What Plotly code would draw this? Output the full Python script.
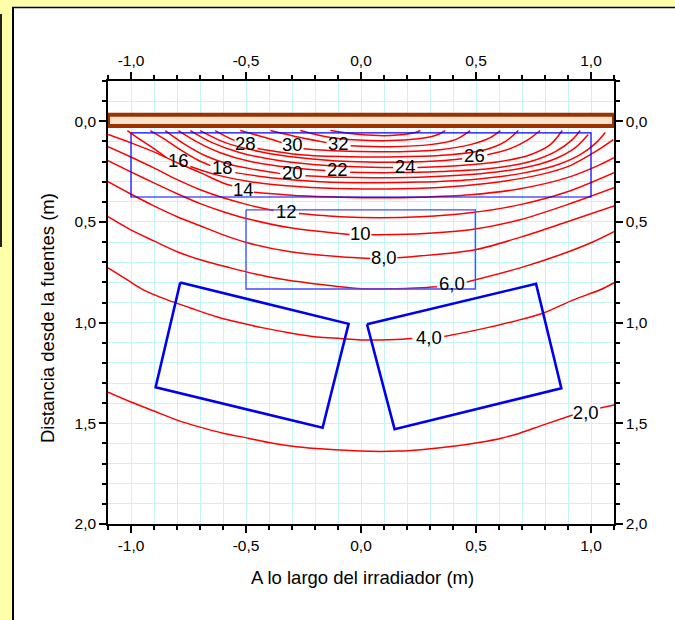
import plotly.graph_objects as go
import numpy as np

# ---------------- data (metres) ----------------
# contour lines of dose rate; None marks the gap left for the inline label
lvl2_x = [-1.10, -1.00, -0.90, -0.80, -0.70, -0.60, -0.49, -0.39, -0.28, -0.16, 0.00, 0.16, 0.26, 0.41, 0.52, 0.61, 0.69, 0.79, 0.92, None, 1.04, 1.10]
lvl2_y = [1.345, 1.394, 1.439, 1.484, 1.519, 1.549, 1.574, 1.598, 1.616, 1.628, 1.638, 1.638, 1.631, 1.613, 1.594, 1.574, 1.549, 1.509, 1.459, None, 1.424, 1.409]

lvl4_x = [-1.10, -1.016, -0.947, -0.842, -0.742, -0.625, -0.525, -0.425, -0.308, -0.190, -0.090, -0.003, 0.149, 0.223, None, 0.362, 0.505, 0.662, 0.793, 0.923, 1.040, 1.10]
lvl4_y = [0.728, 0.788, 0.837, 0.887, 0.927, 0.972, 1.001, 1.026, 1.051, 1.071, 1.079, 1.086, 1.084, 1.079, None, 1.069, 1.036, 0.994, 0.952, 0.887, 0.837, 0.802]

lvl6_x = [-1.10, -1.003, -0.903, -0.799, -0.699, -0.568, -0.460, -0.351, -0.164, -0.016, 0.127, 0.288, 0.33, None, 0.46, 0.692, 0.866, 1.010, 1.10]
lvl6_y = [0.474, 0.538, 0.593, 0.648, 0.688, 0.728, 0.758, 0.783, 0.812, 0.830, 0.832, 0.825, 0.822, None, 0.798, 0.728, 0.663, 0.598, 0.548]

lvl8_x = [-1.10, -1.003, -0.903, -0.799, -0.699, -0.599, -0.494, -0.307, -0.090, 0.040, None, 0.158, 0.314, 0.497, 0.701, 0.897, 1.10]
lvl8_y = [0.300, 0.360, 0.419, 0.474, 0.519, 0.564, 0.603, 0.648, 0.673, 0.681, None, 0.678, 0.663, 0.638, 0.573, 0.499, 0.420]

lvl10_x = [-1.10, -1.003, -0.903, -0.799, -0.699, -0.599, -0.494, -0.307, -0.05, None, 0.045, 0.258, 0.475, 0.692, 0.897, 1.10]
lvl10_y = [0.196, 0.250, 0.305, 0.360, 0.409, 0.449, 0.484, 0.529, 0.562, None, 0.563, 0.558, 0.539, 0.489, 0.414, 0.330]

lvl12_x = [-1.10, -1.003, -0.903, -0.799, -0.699, -0.599, -0.494, -0.38, None, -0.27, -0.090, 0.084, 0.258, 0.475, 0.692, 0.897, 1.10]
lvl12_y = [0.126, 0.176, 0.230, 0.290, 0.340, 0.380, 0.414, 0.443, None, 0.458, 0.474, 0.479, 0.474, 0.454, 0.414, 0.350, 0.255]

lvl14_x = [-1.10, -1.003, -0.903, -0.799, -0.699, -0.603, -0.56, None, -0.465, -0.264, -0.090, 0.084, 0.258, 0.475, 0.692, 0.897, 1.040, 1.10]
lvl14_y = [0.066, 0.106, 0.151, 0.206, 0.255, 0.305, 0.320, None, 0.352, 0.370, 0.377, 0.380, 0.377, 0.365, 0.335, 0.280, 0.215, 0.181]

lvl16_x = [-1.016, -0.960, -0.894, -0.846, None, -0.742, -0.633, -0.481, -0.264, -0.047, 0.171, 0.388, 0.605, 0.779, 0.910, 1.019, 1.097]
lvl16_y = [0.046, 0.091, 0.141, 0.181, None, 0.225, 0.265, 0.300, 0.325, 0.335, 0.335, 0.325, 0.300, 0.265, 0.220, 0.151, 0.091]

lvl18_x = [-0.916, -0.851, -0.786, -0.712, -0.655, None, -0.547, -0.394, -0.177, 0.040, 0.258, 0.475, 0.692, 0.845, 0.953, 1.023, 1.062]
lvl18_y = [0.046, 0.091, 0.141, 0.191, 0.220, None, 0.255, 0.280, 0.300, 0.305, 0.302, 0.290, 0.260, 0.220, 0.166, 0.106, 0.056]

lvl20_x = [-0.851, -0.764, -0.677, -0.568, -0.460, -0.351, None, -0.242, -0.090, 0.084, 0.301, 0.519, 0.714, 0.845, 0.932, 0.988]
lvl20_y = [0.046, 0.116, 0.171, 0.215, 0.240, 0.260, None, 0.270, 0.278, 0.280, 0.275, 0.260, 0.230, 0.186, 0.131, 0.066]

lvl22_x = [-0.794, -0.707, -0.612, -0.481, -0.307, -0.155, None, -0.047, 0.127, 0.345, 0.562, 0.736, 0.845, 0.919, 0.953]
lvl22_y = [0.046, 0.106, 0.156, 0.200, 0.230, 0.245, None, 0.253, 0.255, 0.250, 0.235, 0.200, 0.151, 0.091, 0.046]

lvl24_x = [-0.742, -0.647, -0.525, -0.351, -0.133, 0.140, None, 0.245, 0.432, 0.605, 0.736, 0.823, 0.875]
lvl24_y = [0.046, 0.106, 0.156, 0.196, 0.221, 0.230, None, 0.230, 0.220, 0.200, 0.166, 0.116, 0.046]

lvl26_x = [-0.699, -0.590, -0.438, -0.264, -0.047, 0.171, 0.345, 0.440, None, 0.549, 0.649, 0.727, 0.779]
lvl26_y = [0.046, 0.106, 0.151, 0.181, 0.200, 0.203, 0.196, 0.186, None, 0.166, 0.136, 0.091, 0.046]

lvl28_x = [-0.634, -0.577, -0.55, None, -0.45, -0.264, -0.047, 0.171, 0.388, 0.540, 0.627, 0.684]
lvl28_y = [0.046, 0.081, 0.095, None, 0.135, 0.166, 0.176, 0.176, 0.166, 0.141, 0.101, 0.046]

lvl30_x = [-0.525, -0.416, -0.345, None, -0.250, -0.090, 0.127, 0.345, 0.475, 0.562, 0.606]
lvl30_y = [0.046, 0.081, 0.106, None, 0.136, 0.148, 0.151, 0.141, 0.116, 0.081, 0.046]

lvl32_x = [-0.394, -0.264, -0.150, None, -0.045, 0.127, 0.301, 0.410, 0.475]
lvl32_y = [0.046, 0.081, 0.106, None, 0.121, 0.126, 0.116, 0.091, 0.046]

lvl34_x = [-0.264, -0.133, 0.040, 0.214, 0.323, 0.366]
lvl34_y = [0.046, 0.081, 0.096, 0.091, 0.071, 0.046]

lvl36_x = [-0.133, -0.003, 0.127, 0.236, 0.258]
lvl36_y = [0.046, 0.066, 0.071, 0.056, 0.046]

contour_lines = [
    (lvl2_x, lvl2_y), (lvl4_x, lvl4_y), (lvl6_x, lvl6_y), (lvl8_x, lvl8_y),
    (lvl10_x, lvl10_y), (lvl12_x, lvl12_y), (lvl14_x, lvl14_y), (lvl16_x, lvl16_y),
    (lvl18_x, lvl18_y), (lvl20_x, lvl20_y), (lvl22_x, lvl22_y), (lvl24_x, lvl24_y),
    (lvl26_x, lvl26_y), (lvl28_x, lvl28_y), (lvl30_x, lvl30_y), (lvl32_x, lvl32_y),
    (lvl34_x, lvl34_y), (lvl36_x, lvl36_y),
]

# contour labels
label_text = ["2,0", "4,0", "6,0", "8,0", "10", "12", "14", "16", "18", "20", "22", "24", "26", "28", "30", "32"]
label_x = [0.977, 0.295, 0.395, 0.099, -0.003, -0.325, -0.512, -0.794, -0.603, -0.299, -0.103, 0.192, 0.493, -0.503, -0.299, -0.099]
label_y = [1.457, 1.084, 0.815, 0.686, 0.566, 0.457, 0.347, 0.203, 0.240, 0.265, 0.248, 0.233, 0.178, 0.121, 0.123, 0.121]

# source rack (brown bar)
source_x = [-1.10, 1.10, 1.10, -1.10, -1.10]
source_y = [-0.032, -0.032, 0.023, 0.023, -0.032]

# product boxes
box_top_x = [-1.0, 1.0, 1.0, -1.0, -1.0]
box_top_y = [0.058, 0.058, 0.376, 0.376, 0.058]
box_mid_x = [-0.5, 0.497, 0.497, -0.5, -0.5]
box_mid_y = [0.44, 0.44, 0.833, 0.833, 0.44]
box_left_x = [-0.786, -0.054, -0.167, -0.893, -0.786]
box_left_y = [0.801, 1.006, 1.522, 1.321, 0.801]
box_right_x = [0.026, 0.761, 0.871, 0.146, 0.026]
box_right_y = [1.008, 0.807, 1.326, 1.529, 1.008]

# axes
x_range = [-1.1, 1.1]
y_range = [2.0, -0.2]
x_tick_vals = [-1.0, -0.5, 0.0, 0.5, 1.0]
x_tick_text = ["-1,0", "-0,5", "0,0", "0,5", "1,0"]
y_tick_vals = [0.0, 0.5, 1.0, 1.5, 2.0]
y_tick_text = ["0,0", "0,5", "1,0", "1,5", "2,0"]
x_title = "A lo largo del irradiador (m)"
y_title = "Distancia desde la fuentes (m)"

# ---------------- figure ----------------
FONT = "Liberation Sans, Arial, sans-serif"
GRID = "#C4F6F6"
W, H = 675, 620
ML, MR, MT, MB = 108, 61, 81, 96
PW, PH = W - ML - MR, H - MT - MB

def px_x(p):
    return (p - ML) / PW

def px_y(p):
    return (H - MB - p) / PH

x_minor = [round(v, 2) for v in np.arange(-1.1, 1.1001, 0.1)]
y_minor = [round(v, 2) for v in np.arange(-0.2, 2.0001, 0.1)]

fig = go.Figure()

for cx, cy in contour_lines:
    fig.add_trace(go.Scatter(x=cx, y=cy, mode="lines", connectgaps=False,
                             line=dict(color="#FF0000", width=1.5, shape="spline", smoothing=0.9),
                             hoverinfo="skip", showlegend=False))

blue = "#0000FF"
fig.add_trace(go.Scatter(x=box_top_x, y=box_top_y, mode="lines",
                         line=dict(color=blue, width=1.2), showlegend=False, hoverinfo="skip"))
fig.add_trace(go.Scatter(x=box_mid_x, y=box_mid_y, mode="lines",
                         line=dict(color="#4646FF", width=1.3), showlegend=False, hoverinfo="skip"))
for bx, by in [(box_left_x, box_left_y), (box_right_x, box_right_y)]:
    fig.add_trace(go.Scatter(x=bx, y=by, mode="lines",
                             line=dict(color="#0000EE", width=2.6), showlegend=False, hoverinfo="skip"))

fig.add_trace(go.Scatter(x=source_x, y=source_y, mode="lines", fill="toself",
                         fillcolor="#FBE2C8", line=dict(color="#993300", width=4),
                         showlegend=False, hoverinfo="skip"))

fig.add_trace(go.Scatter(x=label_x, y=label_y, mode="text", text=label_text,
                         textposition="middle center",
                         textfont=dict(family=FONT, size=18.5, color="black"),
                         showlegend=False, hoverinfo="skip"))

# dummy trace so the mirrored (top/right) axes are drawn
fig.add_trace(go.Scatter(x=[None], y=[None], xaxis="x2", yaxis="y2", showlegend=False))

tickfont = dict(family=FONT, size=15.5, color="black")

def xaxis_cfg(**extra):
    d = dict(range=x_range, tickmode="array", tickvals=x_tick_vals, ticktext=x_tick_text,
             ticks="outside", ticklen=7, tickwidth=1.5, tickcolor="black",
             showline=True, linecolor="black", linewidth=1.5, zeroline=False,
             tickfont=tickfont,
             minor=dict(tickmode="array", tickvals=x_minor, ticks="outside", ticklen=4,
                        tickwidth=1.5, tickcolor="black", showgrid=True,
                        gridcolor=GRID, gridwidth=1))
    d.update(extra)
    return d

def yaxis_cfg(**extra):
    d = dict(range=y_range, tickmode="array", tickvals=y_tick_vals, ticktext=y_tick_text,
             ticks="outside", ticklen=7, tickwidth=1.5, tickcolor="black",
             showline=True, linecolor="black", linewidth=1.5, zeroline=False,
             tickfont=tickfont,
             minor=dict(tickmode="array", tickvals=y_minor, ticks="outside", ticklen=4,
                        tickwidth=1.5, tickcolor="black", showgrid=True,
                        gridcolor=GRID, gridwidth=1))
    d.update(extra)
    return d

fig.update_layout(
    width=W, height=H,
    margin=dict(l=ML, r=MR, t=MT, b=MB, autoexpand=False),
    paper_bgcolor="white", plot_bgcolor="white",
    showlegend=False,
    xaxis=xaxis_cfg(showgrid=True, gridcolor=GRID, gridwidth=1),
    yaxis=yaxis_cfg(showgrid=True, gridcolor=GRID, gridwidth=1),
    xaxis2=xaxis_cfg(overlaying="x", side="top", anchor="y2", showgrid=False,
                     minor=dict(tickmode="array", tickvals=x_minor, ticks="outside", ticklen=4,
                                tickwidth=1.5, tickcolor="black", showgrid=False)),
    yaxis2=yaxis_cfg(overlaying="y", side="right", anchor="x2", showgrid=False,
                     minor=dict(tickmode="array", tickvals=y_minor, ticks="outside", ticklen=4,
                                tickwidth=1.5, tickcolor="black", showgrid=False)),
)

# axis titles
fig.add_annotation(text=x_title, xref="paper", yref="paper", x=px_x(362), y=px_y(577),
                   showarrow=False, font=dict(family=FONT, size=18.5, color="black"),
                   xanchor="center", yanchor="middle")
fig.add_annotation(text=y_title, xref="paper", yref="paper", x=px_x(47), y=px_y(318),
                   showarrow=False, textangle=-90, font=dict(family=FONT, size=18.5, color="black"),
                   xanchor="center", yanchor="middle")

# page decoration: yellow frame around the white panel
yellow = "#FFFFAA"
fig.add_shape(type="rect", xref="paper", yref="paper", x0=px_x(-2), x1=px_x(12.5),
              y0=px_y(625), y1=px_y(-2), fillcolor=yellow, line=dict(width=0), layer="below")
fig.add_shape(type="rect", xref="paper", yref="paper", x0=px_x(-2), x1=px_x(680),
              y0=px_y(7), y1=px_y(-2), fillcolor=yellow, line=dict(width=0), layer="below")
fig.add_shape(type="line", xref="paper", yref="paper", x0=px_x(13), x1=px_x(13),
              y0=px_y(7), y1=px_y(625), line=dict(color="black", width=2))
fig.add_shape(type="line", xref="paper", yref="paper", x0=px_x(12), x1=px_x(680),
              y0=px_y(7.5), y1=px_y(7.5), line=dict(color="black", width=1.6))
fig.add_shape(type="line", xref="paper", yref="paper", x0=px_x(1), x1=px_x(1),
              y0=px_y(14), y1=px_y(247), line=dict(color="#222222", width=2))

fig.write_html("out.html", config={"displayModeBar": False},
               post_script="document.body.style.margin='0px';document.body.style.overflow='hidden';")
